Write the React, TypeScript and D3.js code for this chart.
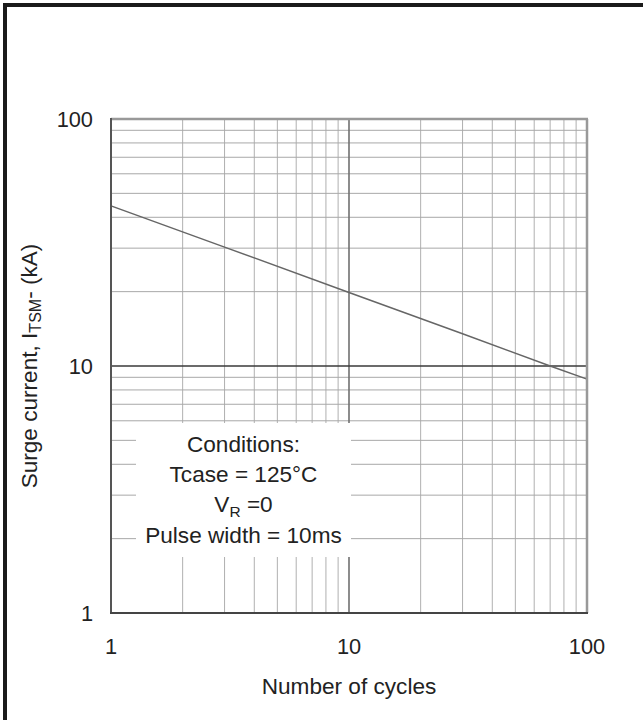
import React from "react";
import * as d3 from "d3";

const cycles = [1, 3, 10, 30, 70, 100];
const surgeKA = [44.5, 30.3, 19.85, 13.5, 10.0, 8.85];
const xTickValues = [1, 10, 100];
const yTickValues = [1, 10, 100];
const conditionLines = ["Conditions:", "Tcase = 125°C", "VR", "Pulse width = 10ms"];

const W = 643;
const H = 720;
const FONT = "Liberation Sans, Arial, sans-serif";

export default function App() {
  const x = d3.scaleLog().domain([1, 100]).range([111, 587]);
  const y = d3.scaleLog().domain([1, 100]).range([613, 119]);

  const minor: number[] = [];
  [1, 10].forEach((d) => {
    for (let m = 2; m <= 9; m++) minor.push(d * m);
  });

  const line = d3
    .line<number>()
    .x((_, i) => x(cycles[i]))
    .y((d) => y(d));

  const [x0, x1] = x.range();
  const [y0, y1] = y.range();

  const boxX = 136, boxW = 215, boxY = 423, boxH = 134;
  const cx = boxX + boxW / 2;
  const LF = 22.6;

  return (
    <svg
      width={W}
      height={H}
      style={{ position: "absolute", left: 0, top: 0, background: "#fff" }}
      fontFamily={FONT}
    >
      <rect x={0} y={0} width={W} height={H} fill="#fff" />
      {/* outer border top & left */}
      <line x1={3} x2={W} y1={5} y2={5} stroke="#1a1a1a" strokeWidth={4} />
      <line x1={5} x2={5} y1={3} y2={H} stroke="#1a1a1a" strokeWidth={4} />

      {/* minor grid */}
      {minor.map((v) => (
        <line key={"vx" + v} x1={x(v)} x2={x(v)} y1={y1} y2={y0} stroke="#b0b0b0" strokeWidth={1} />
      ))}
      {minor.map((v) => (
        <line key={"hy" + v} x1={x0} x2={x1} y1={y(v)} y2={y(v)} stroke="#a8a8a8" strokeWidth={1} />
      ))}
      {/* major grid at 10 */}
      <line x1={x(10)} x2={x(10)} y1={y1} y2={y0} stroke="#707070" strokeWidth={1.6} />
      <line x1={x0} x2={x1} y1={y(10)} y2={y(10)} stroke="#3a3a3a" strokeWidth={1.4} />

      {/* conditions box */}
      <rect x={boxX} y={boxY} width={boxW} height={boxH} fill="#fff" />
      <g fontSize={LF} fill="#222" textAnchor="middle">
        <text x={cx} y={452}>{conditionLines[0]}</text>
        <text x={cx} y={482}>{conditionLines[1]}</text>
        <text x={cx} y={512}>
          {"V"}
          <tspan fontSize={15.5} dy={5}>R</tspan>
          <tspan dy={-5}>{" =0"}</tspan>
        </text>
        <text x={cx} y={543}>{conditionLines[3]}</text>
      </g>

      {/* data line */}
      <path d={line(surgeKA) || ""} fill="none" stroke="#666" strokeWidth={1.5} />

      {/* frame */}
      <line x1={x0} x2={x1 + 1} y1={y1} y2={y1} stroke="#999" strokeWidth={2.5} />
      <line x1={x1} x2={x1} y1={y1} y2={y0} stroke="#999" strokeWidth={2.5} />
      <line x1={x0} x2={x0} y1={y1 - 1} y2={y0 + 1} stroke="#555" strokeWidth={2} />
      <line x1={x0 - 1} x2={x1 + 1} y1={y0} y2={y0} stroke="#444" strokeWidth={2} />

      {/* y ticks */}
      <g fontSize={21.8} fill="#222" textAnchor="end">
        {yTickValues.map((v) => (
          <text key={"yt" + v} x={93} y={y(v)} dy="0.36em">{d3.format("d")(v)}</text>
        ))}
      </g>
      {/* x ticks */}
      <g fontSize={21.8} fill="#222" textAnchor="middle">
        {xTickValues.map((v) => (
          <text key={"xt" + v} x={x(v)} y={654}>{d3.format("d")(v)}</text>
        ))}
      </g>

      {/* axis titles */}
      <text x={x(10)} y={694} fontSize={LF} fill="#222" textAnchor="middle">
        Number of cycles
      </text>
      <text
        transform={`translate(37,${y(10)}) rotate(-90)`}
        fontSize={LF}
        fill="#222"
        textAnchor="middle"
      >
        {"Surge current, I"}
        <tspan fontSize={16} dy={4}>TSM</tspan>
        <tspan dy={-4}>{"- (kA)"}</tspan>
      </text>
    </svg>
  );
}
